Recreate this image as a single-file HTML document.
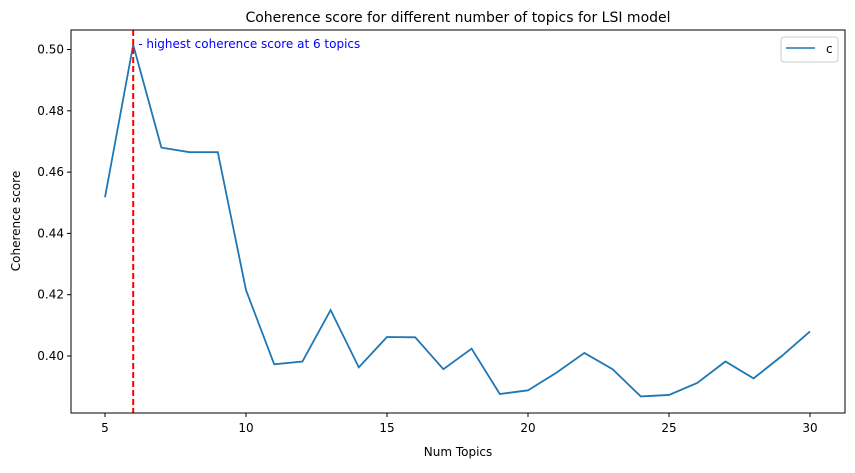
<!DOCTYPE html>
<html><head><meta charset="utf-8"><style>
body{margin:0;background:#fff}
svg text{font-family:"DejaVu Sans","Liberation Sans",sans-serif}
</style></head><body>
<svg width="855" height="468" viewBox="0 0 855 468" id="chart">
<rect width="855" height="468" fill="#fff"/>
<text x="458" y="22" font-size="14" text-anchor="middle">Coherence score for different number of topics for LSI model</text>
<g id="plot"></g>
<rect x="71" y="30" width="774" height="383" fill="none" stroke="#000" stroke-width="1"/>
<text x="458" y="456" font-size="12" text-anchor="middle">Num Topics</text>
<text x="20" y="221" font-size="12" text-anchor="middle" transform="rotate(-90 20 221)">Coherence score</text>
<g>
<rect x="781" y="37" width="57" height="25" rx="3" fill="#fff" stroke="#ccc"/>
<line x1="786" y1="48" x2="815" y2="48" stroke="#1f77b4" stroke-width="1.5"/>
<text x="826" y="53" font-size="12">c</text>
</g>
</svg>
<script>
const topics=[5,6,7,8,9,10,11,12,13,14,15,16,17,18,19,20,21,22,23,24,25,26,27,28,29,30];
const scores=[0.4518,0.5015,0.468,0.4665,0.4665,0.4215,0.3973,0.3982,0.415,0.3963,0.4062,0.4061,0.3957,0.4024,0.3876,0.3888,0.3945,0.401,0.3957,0.3868,0.3873,0.3912,0.3982,0.3927,0.4,0.408];
const xTicks=[5,10,15,20,25,30];
const yTicks=[0.40,0.42,0.44,0.46,0.48,0.50];
const bestTopic=6;
const NS="http://www.w3.org/2000/svg";
const xs=v=>105+(v-5)*(810-105)/25;
const ys=v=>356-(v-0.40)*(356-49.5)/0.10;
const g=document.getElementById('plot');
function mk(t,a){const e=document.createElementNS(NS,t);for(const k in a)e.setAttribute(k,a[k]);g.appendChild(e);return e;}
xTicks.forEach(t=>{
 const l=mk('line',{x1:xs(t),x2:xs(t),y1:413,y2:417,stroke:'#000'});
 
 
 const tx=mk('text',{x:xs(t),y:432,'font-size':12,'text-anchor':'middle'});tx.textContent=t;
 
 
});
yTicks.forEach(t=>{
 const l=mk('line',{x1:67,x2:71,y1:ys(t),y2:ys(t),stroke:'#000'});
 
 
 const tx=mk('text',{x:64,y:ys(t)+4,'font-size':12,'text-anchor':'end'});tx.textContent=t.toFixed(2);
 
 
});
const p=mk('polyline',{points:topics.map((t,i)=>xs(t)+','+ys(scores[i])).join(' '),fill:'none',stroke:'#1f77b4','stroke-width':1.8});


const v=mk('line',{x1:xs(bestTopic),x2:xs(bestTopic),y1:30,y2:413,stroke:'#ff0000','stroke-width':2,'stroke-dasharray':'6,3'});


const best=scores[topics.indexOf(bestTopic)];
const an=mk('text',{x:xs(bestTopic)+5,y:ys(best)+3,'font-size':12,fill:'#0000ff'});
an.textContent='- highest coherence score at '+bestTopic+' topics';


</script>
</body></html>
